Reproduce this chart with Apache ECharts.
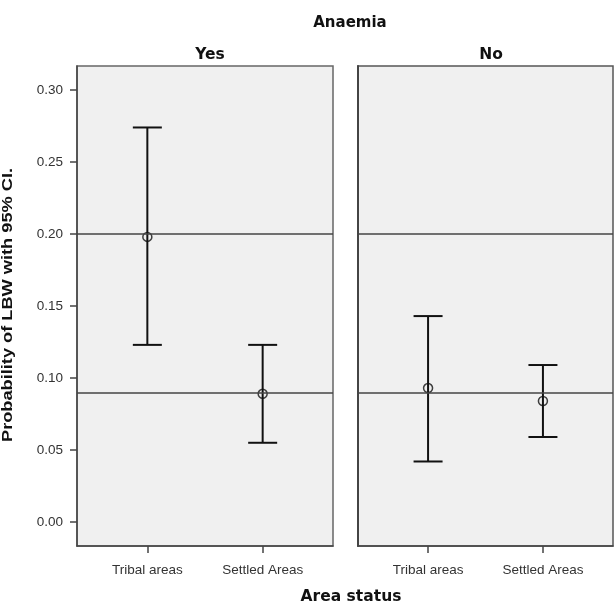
<!DOCTYPE html>
<html>
<head>
<meta charset="utf-8">
<script src="https://cdn.jsdelivr.net/npm/echarts@6/dist/echarts.min.js"></script>
<style>html,body{margin:0;padding:0;background:#fff;}#c{width:616px;height:604px;}</style>
</head>
<body>
<div id="c"></div>
<script>
const categories = ['Tribal areas', 'Settled Areas'];
const panels = ['Yes', 'No'];
const yesMean = [0.198, 0.089];
const yesLow = [0.123, 0.055];
const yesHigh = [0.274, 0.123];
const noMean = [0.093, 0.084];
const noLow = [0.042, 0.059];
const noHigh = [0.143, 0.109];
const refLines = [0.20, 0.09];
const yTicks = [0, 0.05, 0.10, 0.15, 0.20, 0.25, 0.30];
const yTitle = 'Probability of LBW with 95% CI.';
const xTitle = 'Area status';
const panelTitle = 'Anaemia';

const chart = echarts.init(document.getElementById('c'));
const catIdx = categories.map((c, i) => i);
const labelFont = 'Liberation Sans, Arial, sans-serif';

function xAxis(gi) {
  return {
    type: 'value', gridIndex: gi, min: -0.61, max: 1.61, position: 'bottom',
    axisLine: { show: true, onZero: false, lineStyle: { color: '#444', width: 1.5 } },
    axisTick: { show: true, customValues: catIdx, length: 7, lineStyle: { color: '#444', width: 1.5 } },
    axisLabel: { customValues: catIdx, formatter: v => categories[Math.round(v)], color: '#333',
      fontFamily: labelFont, fontSize: 13.5, margin: 17 },
    splitLine: { show: false }
  };
}
function yAxis(gi, showLabels) {
  return {
    type: 'value', gridIndex: gi, min: -0.0167, max: 0.3167, position: 'left',
    axisLine: { show: true, onZero: false, lineStyle: { color: '#444', width: gi === 0 ? 1.5 : 2 } },
    axisTick: { show: showLabels, customValues: yTicks, length: 7, lineStyle: { color: '#444', width: 1.5 } },
    axisLabel: { show: showLabels, customValues: yTicks, formatter: v => v.toFixed(2), color: '#333',
      fontFamily: labelFont, fontSize: 13.5, margin: 14 },
    splitLine: { show: false }
  };
}

function errSeries(gi, mean, low, high) {
  const data = catIdx.map(i => [i, low[i], high[i], mean[i]]);
  return [{
    type: 'custom', xAxisIndex: gi, yAxisIndex: gi,
    data: data,
    renderItem: function (params, api) {
      const x = api.value(0);
      const lo = api.coord([x, api.value(1)]);
      const hi = api.coord([x, api.value(2)]);
      const hw = 14.5;
      const st = { stroke: '#111', lineWidth: 2 };
      return {
        type: 'group',
        children: [
          { type: 'line', shape: { x1: lo[0], y1: lo[1], x2: hi[0], y2: hi[1] }, style: st },
          { type: 'line', shape: { x1: hi[0] - hw, y1: hi[1], x2: hi[0] + hw, y2: hi[1] }, style: st },
          { type: 'line', shape: { x1: lo[0] - hw, y1: lo[1], x2: lo[0] + hw, y2: lo[1] }, style: st }
        ]
      };
    },
    markLine: {
      silent: true, symbol: ['none', 'none'], label: { show: false },
      lineStyle: { color: '#444', width: 1.5, type: 'solid' },
      data: refLines.map(v => ({ yAxis: v }))
    },
    z: 3
  }, {
    type: 'scatter', xAxisIndex: gi, yAxisIndex: gi,
    data: catIdx.map(i => [i, mean[i]]),
    symbol: 'circle', symbolSize: 9,
    itemStyle: { color: 'rgba(0,0,0,0)', borderColor: '#111', borderWidth: 1.5 },
    z: 4
  }];
}

const titleFont = { fontFamily: 'DejaVu Sans, Verdana, sans-serif', fontWeight: 'bold', fontSize: 15.5, color: '#111' };

chart.setOption({
  animation: false,
  backgroundColor: '#fff',
  title: [
    { text: panelTitle, left: 345, top: 11, textAlign: 'center', textStyle: Object.assign({}, titleFont, { fontSize: 15 }) },
    { text: panels[0], left: 205, top: 42, textAlign: 'center', textStyle: titleFont },
    { text: panels[1], left: 486, top: 42, textAlign: 'center', textStyle: titleFont },
    { text: xTitle, left: 346, top: 584, textAlign: 'center', textStyle: titleFont }
  ],
  graphic: [{
    type: 'text', x: 8, y: 305, rotation: Math.PI / 2, scaleX: 1.3, scaleY: 1,
    style: { text: yTitle, font: 'bold 14px "Liberation Sans", Arial, sans-serif', fill: '#111',
      align: 'center', verticalAlign: 'middle' }
  }],
  grid: [
    { left: 77, top: 66, width: 256, height: 480, show: true, backgroundColor: '#f0f0f0', borderColor: '#666', borderWidth: 1.5 },
    { left: 358, top: 66, width: 255, height: 480, show: true, backgroundColor: '#f0f0f0', borderColor: '#555', borderWidth: 1.5 }
  ],
  xAxis: [xAxis(0), xAxis(1)],
  yAxis: [yAxis(0, true), yAxis(1, false)],
  series: [].concat(errSeries(0, yesMean, yesLow, yesHigh), errSeries(1, noMean, noLow, noHigh))
});
</script>
</body>
</html>
